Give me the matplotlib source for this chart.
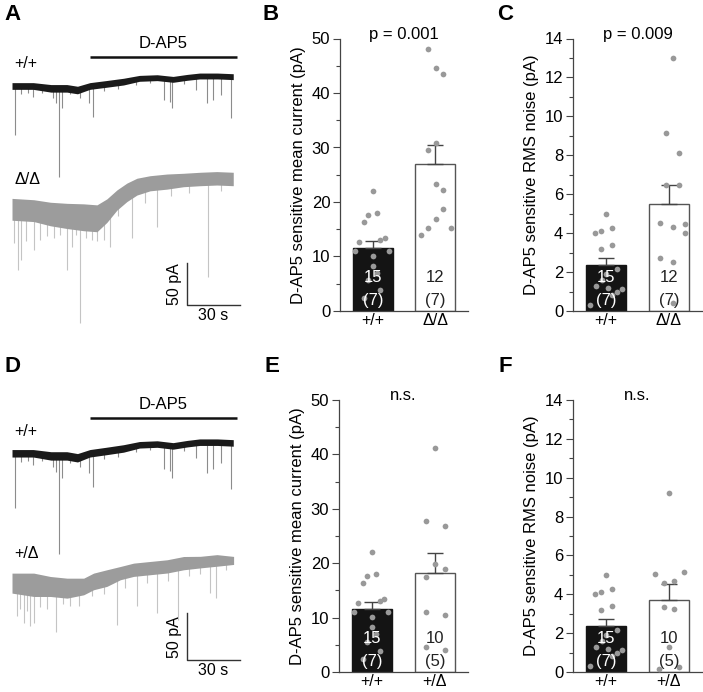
import numpy as np
import matplotlib
matplotlib.use("Agg")
import matplotlib.pyplot as plt
from matplotlib.ticker import MultipleLocator
from matplotlib.transforms import blended_transform_factory

plt.rcParams['font.family'] = ['Liberation Sans', 'DejaVu Sans']
plt.rcParams['font.size'] = 11.5

W, H = 703, 692

# ---------------- traces (time s, current pA relative to trace start) ----------------
wt_t = [0, 12, 22, 31, 37, 44, 53, 63, 72, 82, 91, 99, 106, 116, 125]
wt_i = [0, 0, -2.8, -2.8, -4.8, 0, 2.4, 5.2, 9.1, 9.9, 7.9, 10.3, 11.9, 11.9, 11.1]
wt_hw = [4, 4, 4.5, 4.5, 4.5, 4, 4, 4, 3.5, 3.5, 3.5, 3.5, 3.5, 3.5, 3.5]
wt_ev_t = [1.7, 5, 9, 12, 17, 23, 25, 26.7, 28, 33, 38.5, 43.3, 46, 52, 60, 70, 78, 85.7,
           89.5, 90.4, 97, 104, 110, 113.7, 118, 124]
wt_ev_tip = [-58.3, -9, -8, -12.7, -8, -14.7, -20, -108, -26.6, -10, -14.7, -20.6, -36.5,
             -6, -4, 1, 3, -16.7, -18.7, -26.6, 2, -4.8, -20.6, -16.7, -10.7, -38.5]

ko_t = [0, 12.3, 21.7, 31.1, 40.5, 48, 53.6, 59.3, 64.9, 70.6, 78, 87.5, 96.9, 106.3, 115.7, 125]
ko_i = [0, -1.6, -5.6, -7.9, -9.5, -10.7, -1.6, 11.1, 20.2, 27, 31, 33, 34.9, 36.1, 36.9, 36.1]
ko_hw = [13, 13, 14, 15, 16, 16, 14, 12, 11, 10, 9, 9, 8, 8, 8, 8]
ko_ev_t = [1, 3.2, 5, 8, 12.3, 16, 20, 24, 27, 31, 33.8, 36, 38.6, 42, 45, 48, 51.7, 55.5,
           60, 67.8, 75, 81.9, 90, 100, 111, 118]
ko_ev_tip = [-40, -72.2, -60.3, -38, -48.4, -36.5, -32, -34, -30, -72.2, -44.4, -30, -135.7,
             -34, -36, -38, -36.5, -44.4, -8, -34.5, 8, -20.6, 16, 20, -80.2, 22]

het_t = [0, 12.3, 21.7, 31.1, 40.5, 46.1, 53.6, 61.2, 68.7, 78.1, 87.6, 97, 106.4, 115.8, 125.2]
het_i = [0, -1.8, -3.6, -5.4, -3.6, 1.8, 5.4, 10.7, 14.3, 16.1, 17.9, 21.4, 22.5, 24.3, 24.3]
het_hw = [10.7, 12.5, 10.7, 10.7, 8.9, 8.9, 8.9, 7.1, 7.1, 7.1, 7.1, 7.1, 6.2, 6.2, 4.3]
het_ev_t = [2.6, 4.5, 6.8, 8.5, 10.3, 12.3, 16, 20, 24.6, 29, 33, 37.6, 45, 52, 59.3, 64,
            70.6, 76, 81.9, 88, 94, 100, 106, 112, 115, 121]
het_ev_tip = [-35.7, -28, -42.9, -30, -46.4, -42.9, -26, -28, -51.8, -22, -24, -25, -14,
              -12, -44.6, -5, -25, 0, -32, 2, -39.3, 8, 10, -10.7, -16, 14]

# ---------------- bar graphs ----------------
cur_wt = [22.0, 18.0, 17.6, 16.4, 13.4, 13.0, 12.6, 11.1, 11.1, 10.1, 8.3, 7.0, 5.6, 3.9, 2.3]
cur_wt_jit = [0, 0.06, -0.085, -0.15, 0.19, 0.12, -0.22, -0.29, 0.26, 0, 0, 0.06, -0.08, 0.12, -0.15]
cur_ko = [48.0, 44.5, 43.5, 30.9, 29.5, 23.3, 22.2, 18.7, 16.9, 15.3, 15.3, 13.9]
cur_ko_jit = [-0.11, 0.01, 0.13, 0.01, -0.11, 0.01, 0.13, 0.13, 0.01, -0.11, 0.25, -0.23]
cur_het = [41.2, 27.7, 26.8, 19.9, 19.0, 17.4, 11.0, 10.4, 4.6, 4.1]
cur_het_jit = [0.01, -0.14, 0.16, 0.01, 0.16, -0.14, -0.14, 0.16, -0.14, 0.16]

rms_wt = [4.97, 3.99, 4.13, 4.25, 3.17, 3.39, 2.17, 1.9, 1.6, 1.30, 1.2, 1.13, 0.98, 0.80, 0.31]
rms_wt_jit = [0, -0.185, -0.09, 0.09, -0.09, 0.09, 0.17, 0, -0.06, -0.17, 0.03, 0.26, 0.18, 0.09, -0.26]
rms_ko = [13.0, 9.13, 8.13, 6.47, 6.46, 4.54, 4.32, 4.47, 3.99, 2.74, 2.52, 0.43]
rms_ko_jit = [0.06, -0.05, 0.17, -0.05, 0.17, -0.14, 0.06, 0.26, 0.26, -0.14, 0.06, 0.06]
rms_het = [9.22, 5.04, 4.58, 4.68, 5.17, 3.36, 3.24, 1.3, 0.17, 0.26]
rms_het_jit = [0, -0.22, -0.07, 0.085, 0.24, -0.07, 0.085, 0, -0.15, 0.16]

# mean and SEM
cur_mean_B = [11.5, 26.9]
cur_sem_B = [1.4, 3.5]
rms_mean_C = [2.35, 5.5]
rms_sem_C = [0.37, 0.96]
cur_mean_E = [11.5, 18.2]
cur_sem_E = [1.4, 3.6]
rms_mean_F = [2.35, 3.7]
rms_sem_F = [0.37, 0.85]

fig = plt.figure(figsize=(W / 100, H / 100), dpi=100)


def px_axes(x0, y0, x1, y1):
    return fig.add_axes([x0 / W, 1 - y1 / H, (x1 - x0) / W, (y1 - y0) / H])


def draw_trace(ax, t, i, hw, ev_t, ev_tip, off, band, spike):
    t = np.array(t); i = np.array(i) + off; hw = np.array(hw)
    base = np.interp(ev_t, t, i)
    ax.vlines(ev_t, np.array(ev_tip) + off, base, color=spike, lw=0.8, zorder=1)
    ax.fill_between(t, i - hw, i + hw, color=band, lw=0, zorder=2)


def trace_panel(box, px_per_pa, y0_px, off2, lab2, letter_y):
    x0, y0, x1, y1 = box
    ax = px_axes(*box)
    spx = 1.77  # px per second
    ax.set_xlim((x0 - 12) / spx, (x1 - 12) / spx)
    ax.set_ylim((y0_px - y1) / px_per_pa, (y0_px - y0) / px_per_pa)
    ax.axis('off')
    draw_trace(ax, wt_t, wt_i, wt_hw, wt_ev_t, wt_ev_tip, 0, '#1a1a1a', '#8c8c8c')
    if lab2 == 'Δ/Δ':
        draw_trace(ax, ko_t, ko_i, ko_hw, ko_ev_t, ko_ev_tip, off2, '#9c9c9c', '#c4c4c4')
    else:
        draw_trace(ax, het_t, het_i, het_hw, het_ev_t, het_ev_tip, off2, '#9c9c9c', '#c4c4c4')
    # D-AP5 bar
    ybar = (y0_px - (letter_y + 27)) / px_per_pa
    ax.plot([44, 127], [ybar, ybar], color='#111111', lw=1.8, solid_capstyle='butt')
    ax.text(85.5, ybar + 6 / px_per_pa, 'D-AP5', ha='center', va='bottom', fontsize=12)
    ax.text(1.5, 22 / px_per_pa, '+/+', ha='left', va='center', fontsize=11.5)
    ax.text(1.5, off2 + 30 / px_per_pa, lab2, ha='left', va='center', fontsize=11.5)
    # scale bar 30 s / 50 pA
    sb_t = (187 - 12) / spx
    sb_y = (y0_px - (y1 - 30)) / px_per_pa
    ax.plot([sb_t, sb_t, sb_t + 30], [sb_y + 50, sb_y, sb_y], color='#333333', lw=1.0)
    ax.text(sb_t - 3, sb_y + 25, '50 pA', rotation=90, ha='right', va='center', fontsize=11.5)
    ax.text(sb_t + 15, sb_y - 3 / px_per_pa, '30 s', ha='center', va='top', fontsize=11.5)
    return ax


trace_panel((0, 30, 250, 335), 0.84, 86, -146.8, 'Δ/Δ', 30)
trace_panel((0, 392, 250, 690), 0.934, 453.3, -139, '+/Δ', 391)


def bar_panel(box, v1, j1, v2, j2, means, sems, ymax, major, ylabel, stat, xlabels, n_lab):
    ax = px_axes(*box)
    xs = [0, 1]
    ax.bar(xs[0], means[0], width=0.63, color='#141414', edgecolor='#141414', lw=1, zorder=2)
    ax.bar(xs[1], means[1], width=0.63, color='white', edgecolor='#555555', lw=1, zorder=2)
    for x, m, s in zip(xs, means, sems):
        ax.errorbar(x, m, yerr=[[0], [s]], fmt='none', ecolor='#444444', elinewidth=1,
                    capsize=5.5, capthick=1, zorder=3)
    ax.scatter(np.array(j1) + xs[0], v1, s=17, color='#999999', lw=0, zorder=4)
    ax.scatter(np.array(j2) + xs[1], v2, s=17, color='#999999', lw=0, zorder=4)
    ax.set_xlim(-0.53, 1.53)
    ax.set_ylim(0, ymax)
    ax.yaxis.set_major_locator(MultipleLocator(major))
    ax.yaxis.set_minor_locator(MultipleLocator(major / 2))
    ax.tick_params(axis='y', which='major', length=5, width=0.8, color='#444444', pad=2,
                   labelsize=12)
    ax.tick_params(axis='y', which='minor', length=3, width=0.8, color='#444444')
    ax.tick_params(axis='x', length=0, pad=1.5, labelsize=11.5)
    ax.set_xticks(xs)
    ax.set_xticklabels(xlabels)
    for sp in ['top', 'right']:
        ax.spines[sp].set_visible(False)
    for sp in ['left', 'bottom']:
        ax.spines[sp].set_color('#444444')
        ax.spines[sp].set_linewidth(0.9)
    ax.set_ylabel(ylabel, fontsize=12, labelpad=4)
    ax.text(0.5, ymax * 1.015, stat, ha='center', va='center', fontsize=12)
    tr = blended_transform_factory(ax.transData, ax.transAxes)
    for x, (n, k), c in zip(xs, n_lab, ['white', '#222222']):
        ax.text(x, 0.124, n, transform=tr, ha='center', va='center', color=c, fontsize=12, zorder=5)
        ax.text(x, 0.04, k, transform=tr, ha='center', va='center', color=c, fontsize=12, zorder=5)
    return ax


bar_panel((340, 38.5, 468, 311), cur_wt, cur_wt_jit, cur_ko, cur_ko_jit, cur_mean_B, cur_sem_B,
          50, 10, 'D-AP5 sensitive mean current (pA)', 'p = 0.001', ['+/+', 'Δ/Δ'],
          [('15', '(7)'), ('12', '(7)')])
bar_panel((573, 38.5, 702, 311), rms_wt, rms_wt_jit, rms_ko, rms_ko_jit, rms_mean_C, rms_sem_C,
          14, 2, 'D-AP5 sensitive RMS noise (pA)', 'p = 0.009', ['+/+', 'Δ/Δ'],
          [('15', '(7)'), ('12', '(7)')])
bar_panel((339, 400, 468, 672), cur_wt, cur_wt_jit, cur_het, cur_het_jit, cur_mean_E, cur_sem_E,
          50, 10, 'D-AP5 sensitive mean current (pA)', 'n.s.', ['+/+', '+/Δ'],
          [('15', '(7)'), ('10', '(5)')])
bar_panel((573, 400, 702, 672), rms_wt, rms_wt_jit, rms_het, rms_het_jit, rms_mean_F, rms_sem_F,
          14, 2, 'D-AP5 sensitive RMS noise (pA)', 'n.s.', ['+/+', '+/Δ'],
          [('15', '(7)'), ('10', '(5)')])

# panel letters
for lab, x, y in [('A', 4, 14), ('B', 262, 14), ('C', 497, 14),
                  ('D', 4, 367), ('E', 264, 367), ('F', 499, 367)]:
    fig.text(x / W, 1 - y / H, lab, fontsize=16, fontweight='bold', ha='left', va='center')

fig.savefig('out.png', dpi=100)
